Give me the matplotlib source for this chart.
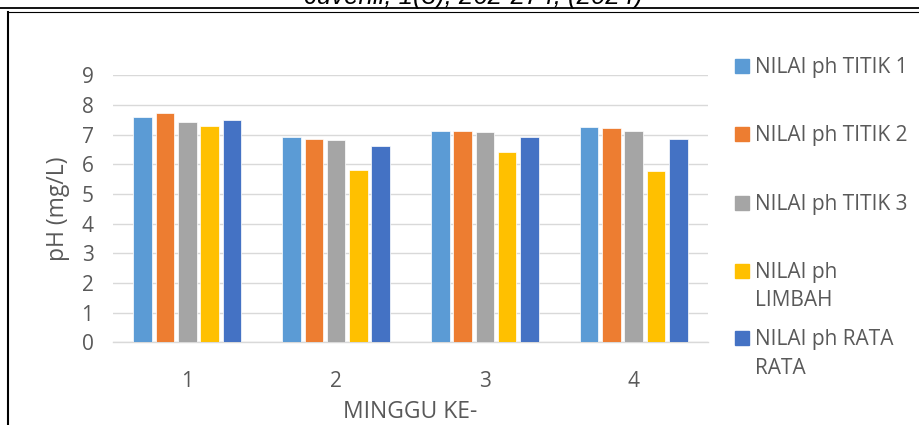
import matplotlib
matplotlib.use("Agg")
import matplotlib.pyplot as plt
from matplotlib.patches import Rectangle
from matplotlib.lines import Line2D
import numpy as np

plt.rcParams['font.family'] = ['Open Sans', 'DejaVu Sans']

weeks = ["1", "2", "3", "4"]
series_names = ["NILAI ph TITIK 1", "NILAI ph TITIK 2", "NILAI ph TITIK 3",
                "NILAI ph\nLIMBAH", "NILAI ph RATA\nRATA"]
titik1 = [7.58, 6.93, 7.13, 7.26]
titik2 = [7.74, 6.85, 7.11, 7.21]
titik3 = [7.44, 6.83, 7.09, 7.13]
limbah = [7.28, 5.82, 6.42, 5.79]
rata = [7.50, 6.61, 6.93, 6.85]
series_values = [titik1, titik2, titik3, limbah, rata]
colors = ["#5B9BD5", "#ED7D31", "#A5A5A5", "#FFC000", "#4472C4"]
yticks = [0, 1, 2, 3, 4, 5, 6, 7, 8, 9]
ylabel = "pH (mg/L)"
xlabel = "MINGGU KE-"
header = "Juvenil, 1(3), 262-274, (2024)"

W, H = 919, 425
fig = plt.figure(figsize=(W / 100, H / 100), dpi=100)
ax = fig.add_axes([113 / W, 1 - 342.3 / H, 595 / W, (342.3 - 75.3) / H])

txt_color = "#595959"
x = np.arange(len(weeks))
step = 0.15
for i, (vals, c) in enumerate(zip(series_values, colors)):
    ax.bar(x + (i - 2) * step, vals, width=0.125, color=c,
           edgecolor="white", linewidth=0.5, zorder=3)

ax.set_xlim(-0.5, len(weeks) - 0.5)
ax.set_ylim(0, 9)
ax.set_yticks(yticks)
ax.set_xticks(x)
ax.set_xticklabels(weeks)
ax.grid(axis="y", color="#D9D9D9", linewidth=1.0, zorder=0)
ax.set_axisbelow(True)
for s in ["top", "right", "left"]:
    ax.spines[s].set_visible(False)
ax.spines["bottom"].set_color("#D9D9D9")
ax.spines["bottom"].set_linewidth(1.0)
ax.tick_params(axis="both", length=0, labelsize=15, labelcolor=txt_color)
ax.tick_params(axis="y", pad=14)
ax.tick_params(axis="x", pad=21)

ax.set_ylabel(ylabel, fontsize=16.5, color=txt_color, va="center")
ax.yaxis.set_label_coords((58.5 - 113) / 595, 0.5)
ax.set_xlabel(xlabel, fontsize=16.5, color=txt_color, va="center")
ax.xaxis.set_label_coords(0.5, -(412 - 342.3) / 267)

# legend (manual, Excel-style: square aligned with first line)
sq = 14
centers = [66, 134, 202.5, 270.5, 338]
line_gap = 28
for name, c, cy in zip(series_names, colors, centers):
    fig.patches.append(Rectangle((735 / W, 1 - (cy + sq / 2) / H), sq / W, sq / H,
                                 transform=fig.transFigure, color=c))
    for k, part in enumerate(name.split("\n")):
        fig.text(755 / W, 1 - (cy + 7.5 + k * line_gap) / H, part, fontsize=15,
                 color=txt_color, ha="left", va="baseline")

# page decorations
fig.add_artist(Line2D([0, 1], [1 - 8 / H, 1 - 8 / H], transform=fig.transFigure,
                      color="black", linewidth=1.3))
fig.add_artist(Line2D([8 / W, 1], [1 - 11.5 / H, 1 - 11.5 / H], transform=fig.transFigure,
                      color="black", linewidth=0.8))
fig.add_artist(Line2D([8 / W, 8 / W], [0, 1 - 11.5 / H], transform=fig.transFigure,
                      color="black", linewidth=1.5))
fig.text(473 / W, 1 - 4 / H, header, fontsize=18.5, style="italic",
         family="Liberation Sans", ha="center", va="baseline", color="black")

fig.savefig("out.png", dpi=100)
